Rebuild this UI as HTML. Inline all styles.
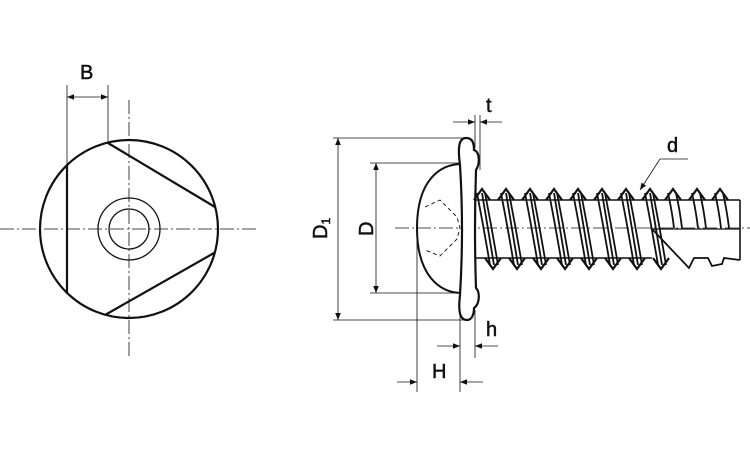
<!DOCTYPE html>
<html><head><meta charset="utf-8"><style>
html,body{margin:0;padding:0;background:#fff;}
svg{display:block;}
text{font-family:"Liberation Sans",sans-serif;font-size:20px;fill:#111;stroke:#111;stroke-width:0.5;}
</style></head><body>
<svg width="750" height="450" viewBox="0 0 750 450" xmlns="http://www.w3.org/2000/svg">
<defs>
<marker id="a" viewBox="0 0 10 10" refX="10" refY="5" markerWidth="10" markerHeight="7" orient="auto-start-reverse" markerUnits="userSpaceOnUse"><path d="M0,1 L10,5 L0,9 Z" fill="#111"/></marker>
<g id="th">
<path d="M-5,193 Q2,229 8,265 M3,193 Q10,229 16,265 M0,193 Q6,229 12,265" fill="none" stroke="#111" stroke-width="1.8"/>
<path d="M-8,200 L0,189 L8,200 M3,258 L11,269 L19,258" fill="none" stroke="#111" stroke-width="2.2"/>
</g>
<g id="tht">
<path d="M-5,193 Q-1,211 1,228 M3,193 Q7,211 9,228" fill="none" stroke="#111" stroke-width="1.8"/>
<path d="M-8,200 L0,189 L8,200" fill="none" stroke="#111" stroke-width="2.2"/>
</g>
</defs>

<g fill="none" stroke="#111">
<line x1="0" y1="229" x2="258" y2="229" stroke-width="0.8" stroke-dasharray="14,3,2,3"/>
<line x1="129" y1="100" x2="129" y2="358" stroke-width="0.8" stroke-dasharray="14,3,2,3"/>
<circle cx="129" cy="229" r="89" stroke-width="2.2"/>
<circle cx="129" cy="229" r="31" stroke-width="1.3"/>
<circle cx="129" cy="229" r="20" stroke-width="1.3"/>
<line x1="67" y1="165" x2="67" y2="292" stroke-width="2.2"/>
<line x1="108" y1="143" x2="215" y2="207" stroke-width="2.2"/>
<line x1="105" y1="315" x2="214" y2="253" stroke-width="2.2"/>
<line x1="67" y1="85" x2="67" y2="165" stroke-width="0.8"/>
<line x1="108" y1="85" x2="108" y2="143" stroke-width="0.8"/>
<line x1="67" y1="97" x2="108" y2="97" stroke-width="0.8" marker-start="url(#a)" marker-end="url(#a)"/>
</g>
<text x="80" y="79">B</text>

<g fill="none" stroke="#111">
<line x1="395" y1="228" x2="750" y2="228" stroke-width="0.8" stroke-dasharray="14,3,2,3"/>
<line x1="333" y1="138" x2="466" y2="138" stroke-width="0.8"/>
<line x1="333" y1="320" x2="466" y2="320" stroke-width="0.8"/>
<line x1="338" y1="138" x2="338" y2="320" stroke-width="0.8" marker-start="url(#a)" marker-end="url(#a)"/>
<line x1="370" y1="163" x2="462" y2="163" stroke-width="0.8"/>
<line x1="370" y1="293" x2="462" y2="293" stroke-width="0.8"/>
<line x1="376" y1="163" x2="376" y2="293" stroke-width="0.8" marker-start="url(#a)" marker-end="url(#a)"/>
<line x1="475" y1="115" x2="475" y2="148" stroke-width="0.8"/>
<line x1="480" y1="115" x2="480" y2="170" stroke-width="0.8"/>
<line x1="453" y1="122" x2="475" y2="122" stroke-width="0.8" marker-end="url(#a)"/>
<line x1="502" y1="122" x2="480" y2="122" stroke-width="0.8" marker-end="url(#a)"/>
<line x1="475" y1="310" x2="475" y2="358" stroke-width="0.8"/>
<line x1="460" y1="310" x2="460" y2="392" stroke-width="0.8"/>
<line x1="437" y1="346" x2="460" y2="346" stroke-width="0.8" marker-end="url(#a)"/>
<line x1="498" y1="346" x2="475" y2="346" stroke-width="0.8" marker-end="url(#a)"/>
<line x1="417" y1="228" x2="417" y2="392" stroke-width="0.8"/>
<line x1="397" y1="382" x2="417" y2="382" stroke-width="0.8" marker-end="url(#a)"/>
<line x1="483" y1="382" x2="460" y2="382" stroke-width="0.8" marker-end="url(#a)"/>
<path d="M462,164 C440,164 417,180 417,228 C417,276 440,293 462,293" stroke-width="2"/>
<path d="M425,207 L440,200 L457,217 L460,228 L457,239 L440,256 L425,250" stroke-width="0.9" stroke-dasharray="4,3"/>
<path d="M466,138 C458,138 458,150 460,165 Q464,229 460,295 C458,312 460,320 467,320 C472,320 474,314 474,308 C480,304 480,292 476,288 Q474,229 476,170 C480,164 480,152 474,150 C474,142 472,138 466,138 Z" fill="#fff" stroke-width="2.2"/>
<line x1="476" y1="200" x2="740" y2="200" stroke-width="1.6"/>
<line x1="476" y1="258" x2="652" y2="258" stroke-width="1.6"/>
<line x1="740" y1="200" x2="740" y2="260" stroke-width="1.6"/>
<path d="M652,229 L740,229" stroke-width="1.2"/>
<path d="M652,229 L689,268 L694,258 L708,258 L712,266 L722,264 L724,258 L740,260" stroke-width="1.8"/>
<line x1="688" y1="159" x2="660" y2="159" stroke-width="0.8"/>
<line x1="660" y1="159" x2="640" y2="190" stroke-width="0.8" marker-end="url(#a)"/>
</g>
<g>
<use href="#th" x="482"/><use href="#th" x="506"/><use href="#th" x="530"/><use href="#th" x="554"/>
<use href="#th" x="578"/><use href="#th" x="602"/><use href="#th" x="626"/><use href="#th" x="650"/>
<use href="#tht" x="673"/><use href="#tht" x="697"/><use href="#tht" x="720"/>
</g>
<text x="486" y="112">t</text>
<text x="486" y="336">h</text>
<text x="432" y="378">H</text>
<text x="667" y="152">d</text>
<text transform="translate(327,239) rotate(-90)">D<tspan font-size="12" dy="3">1</tspan></text>
<text transform="translate(373,236) rotate(-90)">D</text>
</svg>
</body></html>
